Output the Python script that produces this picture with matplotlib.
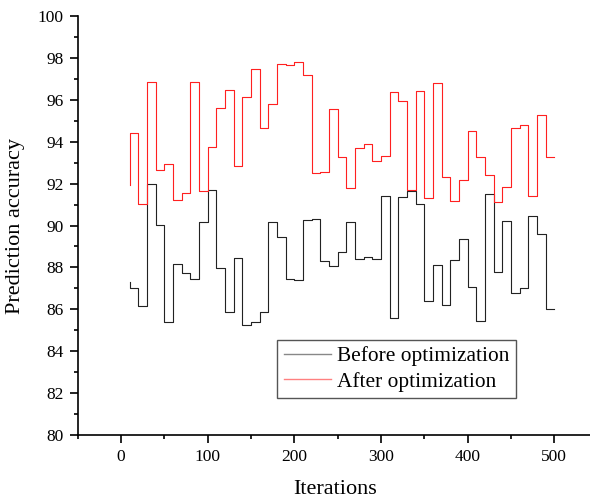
import matplotlib
matplotlib.use("Agg")
import matplotlib.pyplot as plt
from matplotlib.ticker import MultipleLocator

plt.rcParams['font.family'] = ['Liberation Serif', 'DejaVu Serif']

# iterations 10..500, step 10
iterations = [10, 20, 30, 40, 50, 60, 70, 80, 90, 100,
              110, 120, 130, 140, 150, 160, 170, 180, 190, 200,
              210, 220, 230, 240, 250, 260, 270, 280, 290, 300,
              310, 320, 330, 340, 350, 360, 370, 380, 390, 400,
              410, 420, 430, 440, 450, 460, 470, 480, 490, 500]

before = [87.29, 87.02, 86.16, 91.97, 90.01, 85.41, 88.16, 87.73, 87.43, 90.17,
          91.68, 87.96, 85.89, 88.43, 85.25, 85.41, 85.89, 90.17, 89.45, 87.43,
          87.40, 90.25, 90.31, 88.29, 88.08, 88.72, 90.17, 88.40, 88.48, 88.40,
          91.42, 85.60, 91.35, 91.65, 91.03, 86.41, 88.11, 86.19, 88.35, 89.34,
          87.06, 85.46, 91.49, 87.78, 90.20, 86.78, 87.03, 90.44, 89.59, 86.01]

after = [91.93, 94.43, 91.03, 96.83, 92.65, 92.95, 91.22, 91.54, 96.83, 91.65,
         93.76, 95.62, 96.48, 92.82, 96.15, 97.46, 94.64, 95.78, 97.69, 97.66,
         97.80, 97.20, 92.49, 92.55, 95.55, 93.26, 91.79, 93.68, 93.88, 93.08,
         93.30, 96.39, 95.96, 91.69, 96.44, 91.31, 96.82, 92.30, 91.17, 92.16,
         94.53, 93.26, 92.40, 91.11, 91.82, 94.67, 94.78, 91.41, 95.29, 93.26]

fig = plt.figure(figsize=(5.9, 5.01), dpi=100)
ax = fig.add_axes([0.1317, 0.1317, 0.881, 0.8363])

ax.step(iterations, before, where='pre', color='#222222', linewidth=0.8,
        label='Before optimization')
ax.step(iterations, after, where='pre', color='#ff2020', linewidth=0.8,
        label='After optimization')

ax.set_xlim(-50, 550)
ax.set_ylim(80, 100)
ax.xaxis.set_major_locator(MultipleLocator(100))
ax.xaxis.set_minor_locator(MultipleLocator(50))
ax.yaxis.set_major_locator(MultipleLocator(2))
ax.yaxis.set_minor_locator(MultipleLocator(1))

ax.spines['top'].set_visible(False)
ax.spines['right'].set_visible(False)
for s in ['left', 'bottom']:
    ax.spines[s].set_linewidth(1.2)
ax.tick_params(which='major', direction='out', length=5.8, width=1.2,
               labelsize=12.5, pad=4.5)
ax.tick_params(which='minor', direction='out', length=2.9, width=1.2)

ax.set_xlabel('Iterations', fontsize=16)
ax.set_ylabel('Prediction accuracy', fontsize=16)
ax.xaxis.set_label_coords(0.496, -0.107)
ax.yaxis.set_label_coords(-0.101, 0.5)

leg = ax.legend(loc='upper left', bbox_to_anchor=(277.3 / 590, 1 - 340 / 501),
                bbox_transform=fig.transFigure, borderaxespad=0,
                fontsize=15.4, fancybox=False, framealpha=1,
                handlelength=2.2, handletextpad=0.3, borderpad=0.3,
                labelspacing=0.25)
leg.get_frame().set_edgecolor('#555555')
leg.get_frame().set_linewidth(1.0)
for line in leg.get_lines():
    line.set_linewidth(1.0)
leg.get_lines()[0].set_color('#888888')
leg.get_lines()[1].set_color('#ff8080')

plt.savefig('out.png', dpi=100)
